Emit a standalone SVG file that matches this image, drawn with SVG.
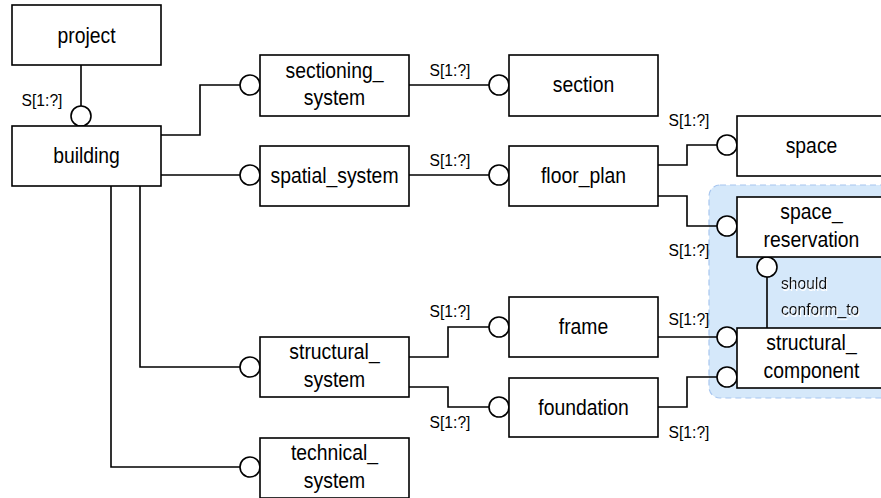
<svg xmlns="http://www.w3.org/2000/svg" width="881" height="498" viewBox="0 0 881 498">
<defs>
<style>
.box{fill:#fff;stroke:#000;stroke-width:1.6}
.c{fill:#fff;stroke:#000;stroke-width:1.6}
.ln{fill:none;stroke:#000;stroke-width:1.6}
.t{font-family:"Liberation Sans",Arial,sans-serif;font-size:22px;fill:#000;text-anchor:middle}
.s{font-family:"Liberation Sans",Arial,sans-serif;font-size:17px;fill:#000;text-anchor:middle}
.n{font-family:"Liberation Sans",Arial,sans-serif;font-size:17px;fill:#111}
</style>
<filter id="wh" x="-10%" y="-20%" width="130%" height="160%">
<feOffset in="SourceAlpha" dx="1" dy="2" result="o"/>
<feFlood flood-color="#fff"/>
<feComposite in2="o" operator="in" result="w"/>
<feMerge><feMergeNode in="w"/><feMergeNode in="SourceGraphic"/></feMerge>
</filter>
</defs>
<rect width="881" height="498" fill="#fff"/>

<g id="group-area">
<rect x="709" y="185" width="200" height="213" rx="11" fill="#d5e8fa" stroke="#a8c6ef" stroke-width="1.2" stroke-dasharray="6,4"/>
</g>

<g id="connectors">
<path class="ln" d="M81,65 V106"/>
<path class="ln" d="M161,135 H200 V85 H240"/>
<path class="ln" d="M161,175 H240"/>
<path class="ln" d="M140,186 V367 H240"/>
<path class="ln" d="M111,186 V467 H240"/>
<path class="ln" d="M409,85 H489"/>
<path class="ln" d="M409,175 H489"/>
<path class="ln" d="M658,165 H687 V145 H717"/>
<path class="ln" d="M658,196 H687 V226 H717"/>
<path class="ln" d="M767,277 V328"/>
<path class="ln" d="M658,337 H717"/>
<path class="ln" d="M658,407 H687 V377 H717"/>
<path class="ln" d="M409,357 H448 V327 H489"/>
<path class="ln" d="M409,387 H448 V407 H489"/>
<circle class="c" cx="81" cy="116" r="10"/>
<circle class="c" cx="250" cy="85" r="10"/>
<circle class="c" cx="250" cy="175" r="10"/>
<circle class="c" cx="250" cy="367" r="10"/>
<circle class="c" cx="250" cy="467" r="10"/>
<circle class="c" cx="499" cy="85" r="10"/>
<circle class="c" cx="499" cy="175" r="10"/>
<circle class="c" cx="499" cy="327" r="10"/>
<circle class="c" cx="499" cy="407" r="10"/>
<circle class="c" cx="727" cy="145" r="10"/>
<circle class="c" cx="727" cy="226" r="10"/>
<circle class="c" cx="727" cy="337" r="10"/>
<circle class="c" cx="727" cy="377" r="10"/>
<circle class="c" cx="767" cy="267" r="10"/>
<text class="s" transform="translate(42,106) scale(0.92,1)">S[1:?]</text>
<text class="s" transform="translate(450,76) scale(0.92,1)">S[1:?]</text>
<text class="s" transform="translate(450,166) scale(0.92,1)">S[1:?]</text>
<text class="s" transform="translate(689,126) scale(0.92,1)">S[1:?]</text>
<text class="s" transform="translate(689,256) scale(0.92,1)">S[1:?]</text>
<text class="s" transform="translate(689,325) scale(0.92,1)">S[1:?]</text>
<text class="s" transform="translate(689,438) scale(0.92,1)">S[1:?]</text>
<text class="s" transform="translate(450,317) scale(0.92,1)">S[1:?]</text>
<text class="s" transform="translate(450,428) scale(0.92,1)">S[1:?]</text>
<g filter="url(#wh)">
<text class="n" transform="translate(781,289) scale(0.92,1)">should</text>
<text class="n" transform="translate(781,315) scale(0.92,1)">conform_to</text>
</g>
</g>

<g id="project">
<rect class="box" x="12" y="5" width="149" height="60"/>
<text class="t" transform="translate(86.5,43) scale(0.88,1)">project</text>
</g>
<g id="building">
<rect class="box" x="12" y="126" width="149" height="60"/>
<text class="t" transform="translate(86.5,163) scale(0.88,1)">building</text>
</g>
<g id="sectioning_system">
<rect class="box" x="260" y="55" width="149" height="61"/>
<text class="t" transform="translate(334.5,78) scale(0.88,1)">sectioning_</text>
<text class="t" transform="translate(334.5,105) scale(0.88,1)">system</text>
</g>
<g id="spatial_system">
<rect class="box" x="260" y="146" width="149" height="60"/>
<text class="t" transform="translate(334.5,183) scale(0.88,1)">spatial_system</text>
</g>
<g id="structural_system">
<rect class="box" x="260" y="337" width="149" height="60"/>
<text class="t" transform="translate(334.5,359) scale(0.88,1)">structural_</text>
<text class="t" transform="translate(334.5,387) scale(0.88,1)">system</text>
</g>
<g id="technical_system">
<rect class="box" x="260" y="438" width="149" height="60"/>
<text class="t" transform="translate(334.5,460) scale(0.88,1)">technical_</text>
<text class="t" transform="translate(334.5,488) scale(0.88,1)">system</text>
</g>
<g id="section">
<rect class="box" x="509" y="55" width="149" height="61"/>
<text class="t" transform="translate(583.5,92) scale(0.88,1)">section</text>
</g>
<g id="floor_plan">
<rect class="box" x="509" y="146" width="149" height="60"/>
<text class="t" transform="translate(583.5,183) scale(0.88,1)">floor_plan</text>
</g>
<g id="frame">
<rect class="box" x="509" y="297" width="149" height="60"/>
<text class="t" transform="translate(583.5,334) scale(0.88,1)">frame</text>
</g>
<g id="foundation">
<rect class="box" x="509" y="378" width="149" height="59"/>
<text class="t" transform="translate(583.5,415) scale(0.88,1)">foundation</text>
</g>
<g id="space">
<rect class="box" x="737" y="116" width="149" height="60"/>
<text class="t" transform="translate(811.5,153) scale(0.88,1)">space</text>
</g>
<g id="space_reservation">
<rect class="box" x="737" y="197" width="149" height="60"/>
<text class="t" transform="translate(811.5,219) scale(0.88,1)">space_</text>
<text class="t" transform="translate(811.5,247) scale(0.88,1)">reservation</text>
</g>
<g id="structural_component">
<rect class="box" x="737" y="328" width="149" height="60"/>
<text class="t" transform="translate(811.5,350) scale(0.88,1)">structural_</text>
<text class="t" transform="translate(811.5,378) scale(0.88,1)">component</text>
</g>
</svg>
